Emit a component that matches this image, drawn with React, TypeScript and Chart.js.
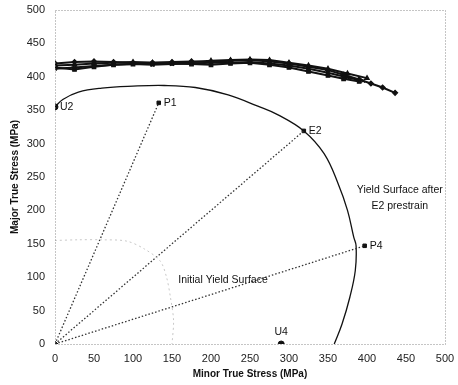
import React, { useEffect, useRef } from "react";
import { Chart, registerables } from "chart.js";
Chart.register(...registerables);

const xTickValues = [0, 50, 100, 150, 200, 250, 300, 350, 400, 450, 500];
const yTickValues = [0, 50, 100, 150, 200, 250, 300, 350, 400, 450, 500];

// Hardening curves (x = minor stress, y = major stress)
const hardA = [[0,420],[25,422],[50,423],[75,422],[100,421],[125,421],[150,422],[175,423],[200,422],[225,424],[250,425],[275,423],[300,420],[325,415],[350,410],[370,403],[390,396],[405,390],[420,384],[436,376]];
const hardB = [[0,414],[25,411],[50,415],[75,418],[100,419],[125,419],[150,420],[175,419],[200,418],[225,420],[250,421],[275,418],[300,414],[325,408],[350,402],[370,397],[390,393]];
const hardC = [[0,417],[25,418],[50,420],[75,421],[100,422],[125,421],[150,421],[175,422],[200,424],[225,425],[250,426],[275,425],[300,421],[325,417],[350,412],[375,405],[400,398]];
const hardD = [[0,412],[25,414],[50,416],[75,418],[100,419],[125,418],[150,419],[175,420],[200,421],[225,421],[250,422],[275,420],[300,417],[325,412],[350,406],[375,399],[395,394]];

// Yield surface after E2 prestrain
const yieldAfterE2 = [[0,355],[10,366],[30,377],[60,383],[100,386],[140,387],[180,384],[222,373],[260,356],[286,343],[319,319],[345,285],[363,240],[375,200],[383,160],[386,147],[385,110],[378,70],[368,30],[358,0]];

// Initial yield surface (faint)
const initialYield = [[0,155],[30,156],[60,156],[92,154],[115,142],[135,124],[143,100],[148,70],[152,35],[150,0]];

// Test points
const pointNames = ["U2", "P1", "E2", "P4", "U4"];
const pointX = [0, 133, 319, 397, 290];
const pointY = [355, 361, 319, 147, 0];

// Load paths from origin (to P1, E2, P4)
const pathTargets = ["P1", "E2", "P4"];

const toXY = (arr: number[][]) => arr.map(([x, y]) => ({ x, y }));
const FONT = "'Liberation Sans', Arial, sans-serif";

const annotationPlugin = {
  id: "annots",
  afterDatasetsDraw(chart: any) {
    const { ctx, chartArea, scales } = chart;
    const xs = scales.x, ys = scales.y;
    ctx.save();
    ctx.setLineDash([1, 2]);
    ctx.strokeStyle = "#8a8a8a";
    ctx.lineWidth = 1;
    ctx.strokeRect(chartArea.left + 0.5, chartArea.top + 0.5, chartArea.right - chartArea.left, chartArea.bottom - chartArea.top);
    ctx.setLineDash([]);
    ctx.fillStyle = "#111";
    ctx.font = "10.5px " + FONT;
    ctx.textBaseline = "middle";
    pointNames.forEach((n, i) => {
      const px = xs.getPixelForValue(pointX[i]);
      const py = ys.getPixelForValue(pointY[i]);
      if (n === "U4") {
        ctx.textAlign = "center";
        ctx.fillText(n, px, py - 12);
      } else {
        ctx.textAlign = "left";
        ctx.fillText(n, px + 5, py);
      }
    });
    ctx.textAlign = "left";
    ctx.fillText("Initial Yield Surface", xs.getPixelForValue(158), ys.getPixelForValue(96));
    ctx.textAlign = "center";
    ctx.fillText("Yield Surface after", xs.getPixelForValue(442), ys.getPixelForValue(230));
    ctx.fillText("E2 prestrain", xs.getPixelForValue(442), ys.getPixelForValue(207));
    ctx.restore();
  },
};

export default function App() {
  const ref = useRef<HTMLCanvasElement | null>(null);
  useEffect(() => {
    document.body.style.margin = "0";
    const pathSets = pathTargets.map((t) => {
      const i = pointNames.indexOf(t);
      return {
        type: "line" as const,
        data: [{ x: 0, y: 0 }, { x: pointX[i], y: pointY[i] }],
        borderColor: "#333",
        borderWidth: 1.3,
        borderDash: [1.5, 2],
        pointRadius: 0,
        showLine: true,
      };
    });
    const hardStyles: any[] = ["rectRot", "rect", "triangle", "crossRot"];
    const hards = [hardA, hardB, hardC, hardD].map((h, k) => ({
      type: "line" as const,
      data: toXY(h),
      borderColor: "#111",
      backgroundColor: "#111",
      borderWidth: 2,
      pointStyle: hardStyles[k],
      pointRadius: 2.5,
      pointBorderWidth: 1.2,
      showLine: true,
      tension: 0,
    }));
    const chart = new Chart(ref.current!, {
      type: "scatter",
      data: {
        datasets: [
          {
            type: "line",
            data: toXY(initialYield),
            borderColor: "#c8c8c8",
            borderWidth: 1,
            borderDash: [2, 3],
            pointRadius: 0,
            showLine: true,
            tension: 0.3,
          } as any,
          ...pathSets,
          {
            type: "line",
            data: toXY(yieldAfterE2),
            borderColor: "#111",
            borderWidth: 1.3,
            pointRadius: 0,
            showLine: true,
            tension: 0.4,
          } as any,
          ...hards,
          {
            type: "scatter",
            data: pointNames.map((_, i) => ({ x: pointX[i], y: pointY[i] })).concat([{ x: 0, y: 0 }]),
            backgroundColor: "#111",
            borderColor: "#111",
            pointStyle: ["circle", "rect", "rect", "rect", "circle", "rectRot"],
            pointRadius: [3, 2.5, 2.5, 2.5, 3, 3],
          } as any,
        ],
      },
      options: {
        animation: false,
        responsive: false,
        plugins: { legend: { display: false }, tooltip: { enabled: false } },
        layout: { padding: { top: 10, right: 13, left: 0, bottom: 0 } },
        scales: {
          x: {
            type: "linear",
            min: 0,
            max: 500,
            afterBuildTicks: (s: any) => { s.ticks = xTickValues.map((v) => ({ value: v })); },
            afterFit: (s: any) => { s.height = 41; },
            grid: { display: false },
            border: { display: false },
            ticks: { color: "#222", font: { size: 11, family: FONT }, padding: 0, maxRotation: 0 },
            title: { display: true, text: "Minor True Stress (MPa)", color: "#111", font: { size: 10, weight: "bold", family: FONT }, padding: { top: 2, bottom: 5 } },
          },
          y: {
            type: "linear",
            min: 0,
            max: 500,
            afterBuildTicks: (s: any) => { s.ticks = yTickValues.map((v) => ({ value: v })); },
            afterFit: (s: any) => { s.width = 55; },
            grid: { display: false },
            border: { display: false },
            ticks: { color: "#222", font: { size: 11, family: FONT }, padding: 2 },
            title: { display: true, text: "Major True Stress (MPa)", color: "#111", font: { size: 10, weight: "bold", family: FONT }, padding: { top: 9, bottom: 0 } },
          },
        },
      } as any,
      plugins: [annotationPlugin],
    });
    return () => chart.destroy();
  }, []);
  return (
    <div style={{ position: "absolute", left: 0, top: 0, width: 458, height: 385, background: "#fff" }}>
      <canvas ref={ref} width={458} height={385} style={{ width: 458, height: 385, display: "block" }} />
    </div>
  );
}
